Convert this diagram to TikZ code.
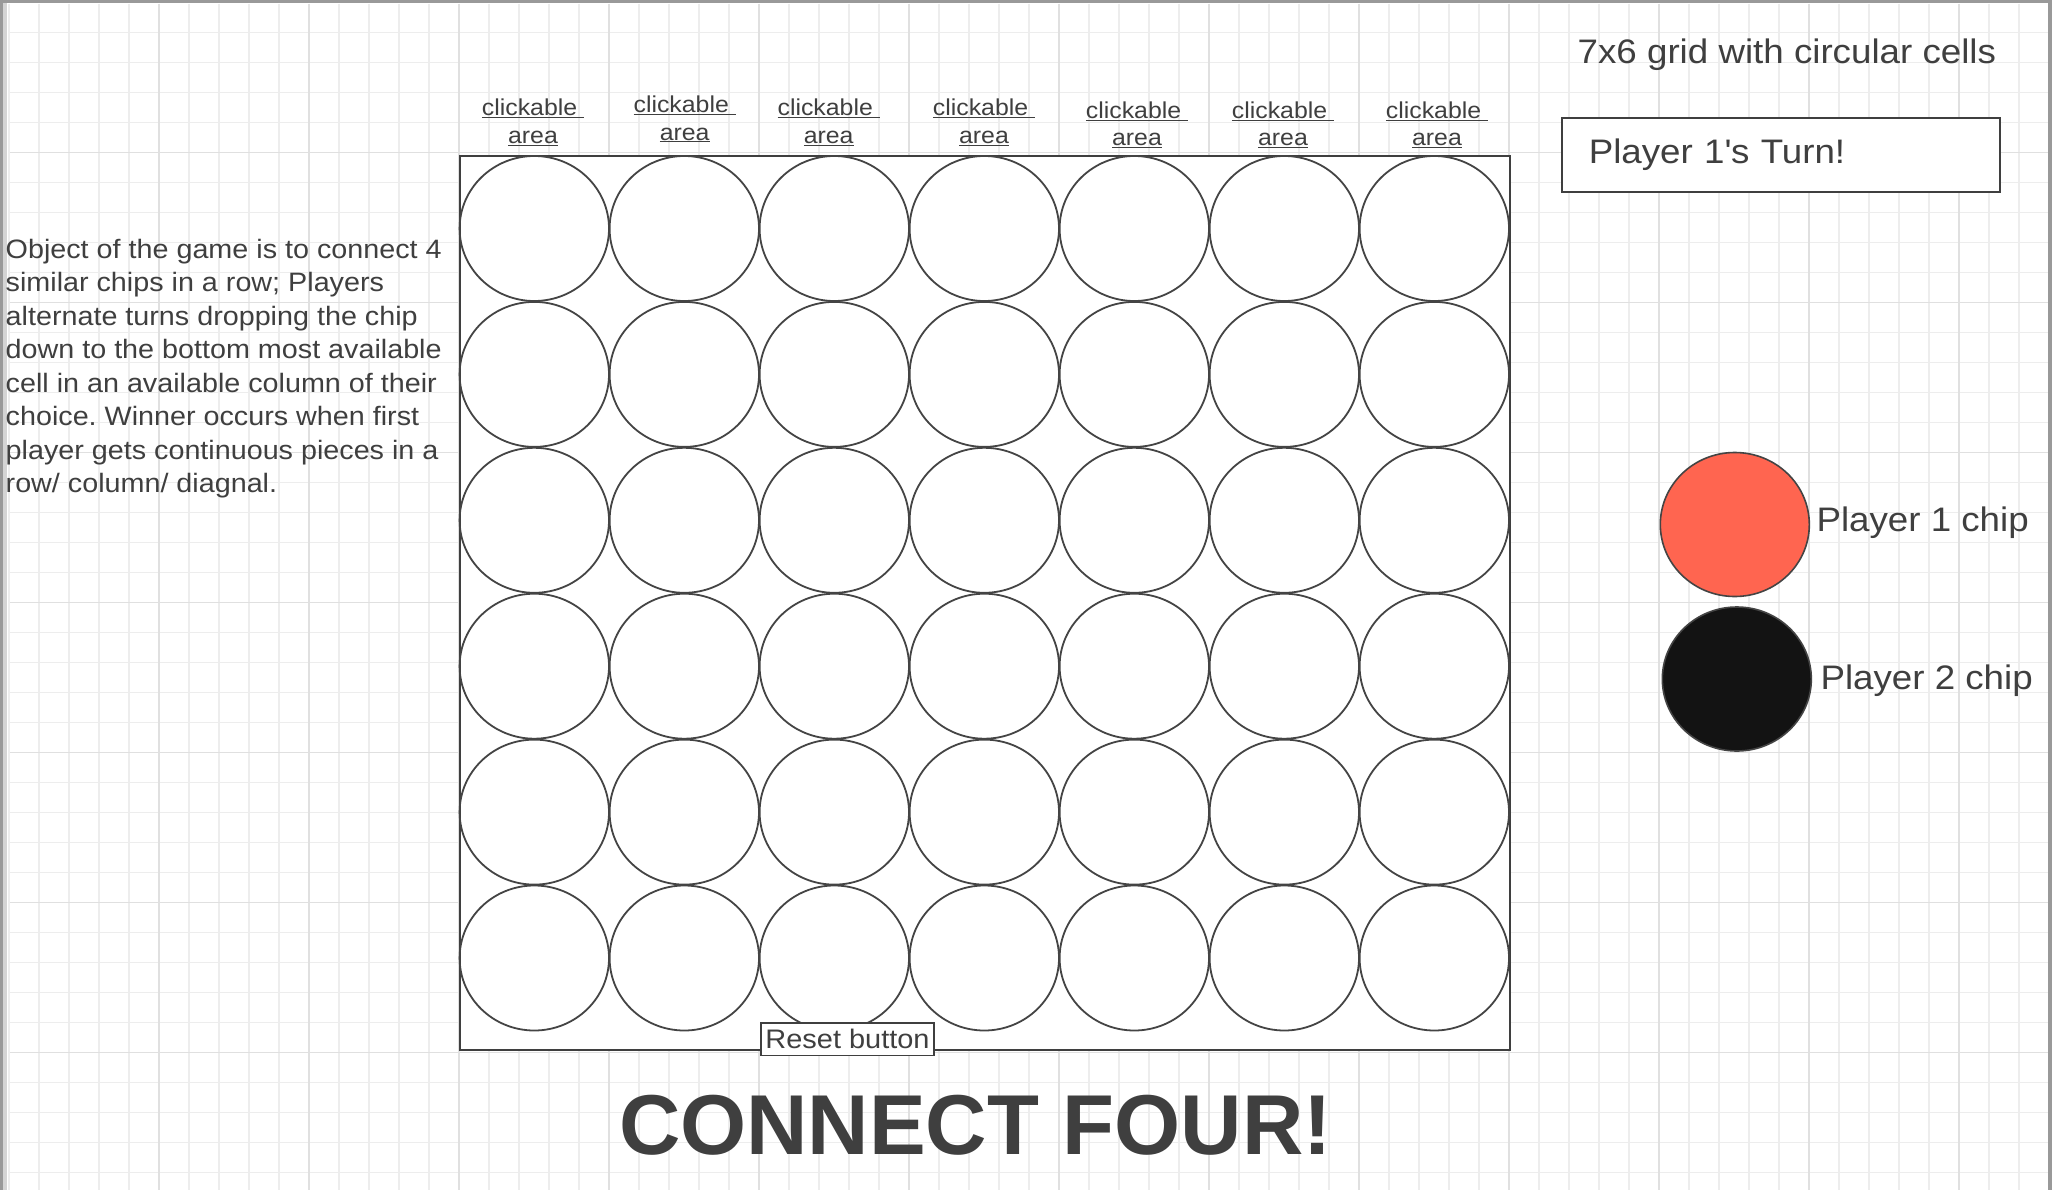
\documentclass[tikz,border=0pt]{standalone}
\usepackage{fontspec}
\setmainfont{Liberation Sans}[FakeStretch=1.08]
\newfontfamily\titlefont{Liberation Sans}
\usepackage{xcolor}
\usetikzlibrary{shapes.geometric,positioning}

\definecolor{ink}{HTML}{3F3F3F}
\definecolor{rim}{HTML}{444444}
\definecolor{gridminor}{HTML}{EDEDED}
\definecolor{gridmajor}{HTML}{E0E0E0}
\definecolor{edgegray}{HTML}{999999}
\definecolor{edgelight}{HTML}{D4D4D4}
\definecolor{chipred}{HTML}{FF6550}
\definecolor{chipblack}{HTML}{131313}
\frenchspacing

\begin{document}
\begin{tikzpicture}[x=1pt,y=-1pt,
  gridfine/.style={draw=gridminor,line width=1.2pt},
  gridbold/.style={draw=gridmajor,line width=1.4pt},
  cell/.style={ellipse,draw=rim,line width=1.8pt,minimum width=149.4pt,minimum height=145pt,inner sep=0pt},
  chip/.style={ellipse,draw=rim,line width=1.6pt,minimum width=149pt,minimum height=144pt,inner sep=0pt},
  words/.style={text=ink,inner sep=0pt,anchor=base west},
  clk/.style={text=ink,inner sep=0pt,anchor=base,font=\fontsize{23}{27}\selectfont},
  panel/.style={draw=ink,line width=2pt,fill=white}]
\fill[white] (0,0) rectangle (2052,1190);
% background grid
\foreach \k in {0,...,68} \draw[gridfine] ({9+30*\k},4) -- ({9+30*\k},1190);
\foreach \k in {1,...,39} \draw[gridfine] (10,{2.7+30*\k}) -- (2048,{2.7+30*\k});
\foreach \k in {1,...,13} \draw[gridbold] ({9+150*\k},4) -- ({9+150*\k},1190);
\foreach \k in {1,...,7} \draw[gridbold] (10,{2.7+150*\k}) -- (2048,{2.7+150*\k});
\fill[edgegray] (0,0) rectangle (3.3,1190);
\fill[edgelight] (3.3,0) rectangle (7,1190);
\fill[edgegray] (0,0) rectangle (2052,2.7);
\fill[edgegray] (2048.3,0) rectangle (2052,1190);

% board
\node (board) [draw=ink,line width=2pt,fill=white,anchor=north west,inner sep=0pt,
  minimum width=1050pt,minimum height=894pt] at (459,154.5) {};
\foreach \c in {0,...,6}
  \foreach \r in {0,...,5}
    \node (cell-\c-\r) [cell] at ({534.3+150*\c},{228.5+145.9*\r}) {};

% column labels
\foreach \cx/\cy [count=\i] in {533/143.4,684.7/140,828.7/143.4,984/143.4,1137/145.7,1283/145.7,1437/145.7} {
  \node (click\i) [clk] at (\cx,\cy-27.4) {\underline{clickable\ }};
  \node (area\i) [clk] at (\cx,\cy) {\underline{area}};
}

% rules text
\foreach \line [count=\i] in {Object of the game is to connect 4,similar chips in a row; Players,alternate turns dropping the chip,down to the bottom most available,cell in an available column of their,choice. Winner occurs when first,player gets continuous pieces in a,row/ column/ diagnal.}
  \node (rule\i) [words,font=\fontsize{26.6}{33.5}\selectfont] at (5.5,{258+33.5*(\i-1)}) {\line};

% right side
\node (caption) [words,font=\fontsize{34}{40}\selectfont] at (1577.5,63.3) {7x6 grid with circular cells};
\node (turn) [panel,anchor=north west,minimum width=438.4pt,minimum height=74.3pt,
  text width=384pt,inner xsep=27pt,inner ysep=0pt,text=ink,font=\fontsize{34}{40}\selectfont]
  at (1560.6,116.7) {Player 1\textquotesingle s Turn!};
\node (red) [chip,fill=chipred] at (1734.8,524.5) {};
\node (black) [chip,fill=chipblack] at (1736.8,679) {};
\node (redtxt) [words,font=\fontsize{34}{40}\selectfont] at (1816.3,531) {Player 1 chip};
\node (blacktxt) [words,font=\fontsize{34}{40}\selectfont] at (1820.3,689) {Player 2 chip};

% bottom
\node (reset) [panel,line width=1.6pt,minimum width=173pt,minimum height=32.6pt,inner sep=0pt,
  text=ink,font=\fontsize{26.8}{30}\selectfont] at (847.5,1039) {Reset button};
\node (title) [text=ink,inner sep=0pt,anchor=base,font=\titlefont\bfseries\fontsize{85}{92}\selectfont]
  at (975.5,1154.3) {CONNECT FOUR!};
\end{tikzpicture}
\end{document}
